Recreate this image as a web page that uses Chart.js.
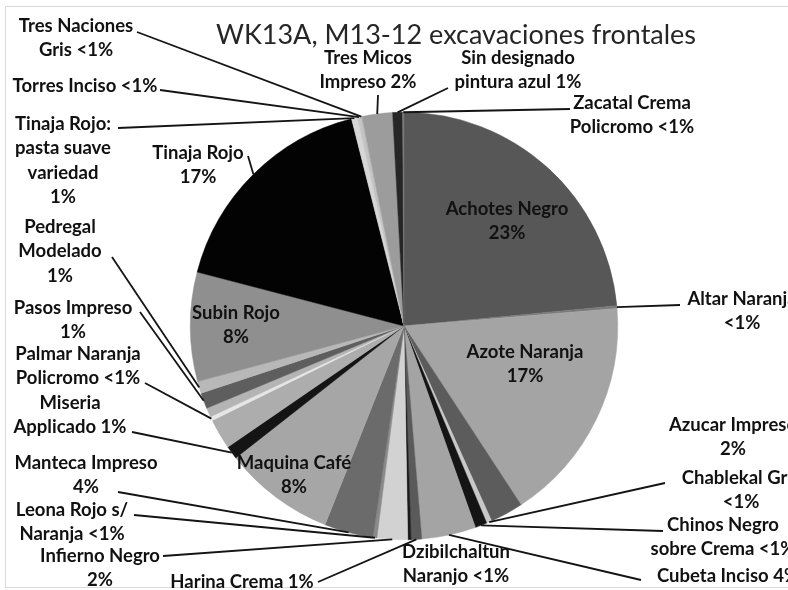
<!DOCTYPE html>
<html>
<head>
<meta charset="utf-8">
<script src="https://cdn.jsdelivr.net/npm/chart.js@4.4.1/dist/chart.umd.min.js"></script>
<style>
  html, body { margin: 0; padding: 0; background: #fff; overflow: hidden; }
  #wrap { position: relative; width: 788px; height: 590px; }
</style>
</head>
<body>
<div id="wrap"><canvas id="chart" width="788" height="590"></canvas></div>
<script>
const chartTitle = 'WK13A, M13-12 excavaciones frontales';

// categorias en el orden del gráfico (sentido horario desde arriba)
const categories = [
  'Achotes Negro', 'Altar Naranja', 'Azote Naranja', 'Azucar Impreso', 'Chablekal Gris',
  'Chinos Negro sobre Crema', 'Cubeta Inciso', 'Harina Crema', 'Dzibilchaltun Naranjo',
  'Infierno Negro', 'Leona Rojo s/ Naranja', 'Manteca Impreso', 'Maquina Café',
  'Miseria Applicado', '', 'Palmar Naranja Policromo', '', 'Pasos Impreso',
  'Pedregal Modelado', 'Subin Rojo', 'Tinaja Rojo', 'Tinaja Rojo: pasta suave variedad',
  'Torres Inciso', 'Tres Naciones Gris', 'Tres Micos Impreso', 'Sin designado pintura azul',
  'Zacatal Crema Policromo'
];

// porcentajes
const values = [
  23.5, 0.2, 17.1, 2.5, 0.4,
  0.9, 4.1, 0.8, 0.25,
  2.3, 0.3, 3.7, 8.4,
  1.0, 2.3, 0.3, 0.7, 1.2,
  0.9, 8.25, 17.0, 0.45,
  0.25, 0.1, 2.3, 0.75,
  0.1
];

// textos de las etiquetas (una entrada por linea)
const labelLines = [
  ['Achotes Negro', '23%'], ['Altar Naranja', '<1%'], ['Azote Naranja', '17%'],
  ['Azucar Impreso', '2%'], ['Chablekal Gris', '<1%'], ['Chinos Negro', 'sobre Crema <1%'],
  ['Cubeta Inciso 4%'], ['Harina Crema 1%'], ['Dzibilchaltun', 'Naranjo <1%'],
  ['Infierno Negro', '2%'], ['Leona Rojo s/', 'Naranja <1%'], ['Manteca Impreso', '4%'],
  ['Maquina Café', '8%'], ['Miseria', 'Applicado 1%'], null,
  ['Palmar Naranja', 'Policromo <1%'], null, ['Pasos Impreso', '1%'],
  ['Pedregal', 'Modelado', '1%'], ['Subin Rojo', '8%'], ['Tinaja Rojo', '17%'],
  ['Tinaja Rojo:', 'pasta suave', 'variedad', '1%'], ['Torres Inciso <1%'], ['Tres Naciones', 'Gris <1%'],
  ['Tres Micos', 'Impreso 2%'], ['Sin designado', 'pintura azul 1%'], ['Zacatal Crema', 'Policromo <1%']
];

const shades = [
  '#575757', '#7a7a7a', '#a4a4a4', '#5c5c5c', '#c8c8c8',
  '#141414', '#a4a4a4', '#5a5a5a', '#1a1a1a',
  '#d2d2d2', '#8a8a8a', '#6b6b6b', '#a6a6a6',
  '#141414', '#adadad', '#e6e6e6', '#b4b4b4', '#5e5e5e',
  '#b8b8b8', '#8f8f8f', '#030303', '#d6d6d6',
  '#c4c4c4', '#bbbbbb', '#9c9c9c', '#262626',
  '#7a7a7a'
];

// posicion de cada etiqueta: centro x, y de la primera linea, inicio de la linea guia
const labelPos = [
  { x: 507, y: 209 }, { x: 742, y: 299, lx: 680, ly: 305 }, { x: 525, y: 352 },
  { x: 733, y: 425 }, { x: 741, y: 478, lx: 665, ly: 483 }, { x: 723, y: 525, lx: 663, ly: 531 },
  { x: 728, y: 576, lx: 641, ly: 580 }, { x: 242, y: 582, lx: 318, ly: 582 }, { x: 456, y: 552 },
  { x: 100, y: 556, lx: 163, ly: 556 }, { x: 72, y: 510, lx: 134, ly: 515 }, { x: 86, y: 463, lx: 118, ly: 492 },
  { x: 294, y: 463 }, { x: 70, y: 403, lx: 132, ly: 432 }, null,
  { x: 78, y: 354, lx: 145, ly: 383 }, null, { x: 73, y: 308, lx: 140, ly: 312 },
  { x: 60, y: 227, lx: 112, ly: 257 }, { x: 236, y: 313 }, { x: 198, y: 153, lx: 248, ly: 156 },
  { x: 63, y: 124, lx: 118, ly: 128 }, { x: 85, y: 86, lx: 160, ly: 90 }, { x: 76, y: 26, lx: 137, ly: 32 },
  { x: 368, y: 58, lx: 378, ly: 95 }, { x: 518, y: 58, lx: 448, ly: 88 }, { x: 632, y: 103, lx: 570, ly: 109 }
];

const labelPlugin = {
  id: 'labelPlugin',
  afterDraw(chart) {
    const ctx = chart.ctx;
    const arcs = chart.getDatasetMeta(0).data;
    ctx.save();
    // marco
    ctx.strokeStyle = '#d9d9d9';
    ctx.lineWidth = 1;
    ctx.strokeRect(5.5, 6.5, 800, 581);
    // titulo
    ctx.fillStyle = '#262626';
    ctx.font = '27px Lato';
    ctx.textAlign = 'center';
    ctx.textBaseline = 'middle';
    ctx.fillText(chartTitle, 456, 35);
    // lineas guia
    ctx.strokeStyle = '#141414';
    ctx.lineWidth = 1.8;
    labelPos.forEach((p, i) => {
      if (!p || p.lx == null) return;
      const a = arcs[i];
      const mid = (a.startAngle + a.endAngle) / 2;
      const ex = a.x + Math.cos(mid) * a.outerRadius;
      const ey = a.y + Math.sin(mid) * a.outerRadius;
      ctx.beginPath();
      ctx.moveTo(p.lx, p.ly);
      ctx.lineTo(ex, ey);
      ctx.stroke();
    });
    // textos
    ctx.fillStyle = '#111';
    ctx.font = 'bold 18.5px Lato';
    labelPos.forEach((p, i) => {
      if (!p || !labelLines[i]) return;
      labelLines[i].forEach((t, k) => ctx.fillText(t, p.x, p.y + k * 24.5));
    });
    ctx.restore();
  }
};

new Chart(document.getElementById('chart'), {
  type: 'pie',
  data: {
    labels: categories,
    datasets: [{
      data: values,
      backgroundColor: shades,
      borderColor: shades,
      borderWidth: 0.5
    }]
  },
  options: {
    responsive: false,
    animation: false,
    layout: { padding: { left: 190, right: 170, top: 112, bottom: 50 } },
    plugins: { legend: { display: false }, tooltip: { enabled: false }, title: { display: false } }
  },
  plugins: [labelPlugin]
});
</script>
</body>
</html>
